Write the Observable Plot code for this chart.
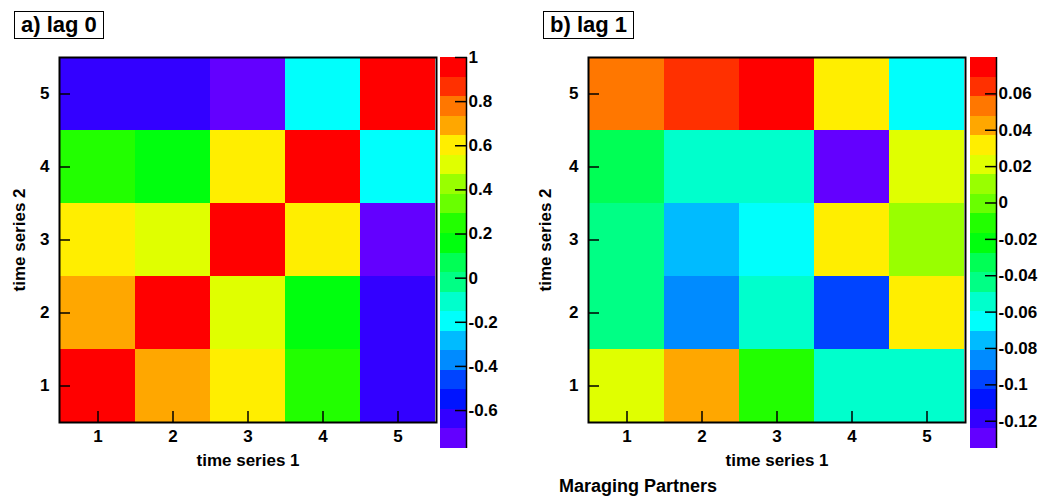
<!DOCTYPE html>
<html>
<head>
<meta charset="utf-8">
<script src="https://cdn.jsdelivr.net/npm/d3@7"></script>
<script src="https://cdn.jsdelivr.net/npm/@observablehq/plot@0.6"></script>
<style>
  html, body { margin: 0; padding: 0; background: #fff; }
  #root { position: relative; width: 1040px; height: 497px; overflow: hidden;
          font-family: "Liberation Sans", Arial, Helvetica, sans-serif; font-weight: bold; color: #000; }
  .abs { position: absolute; }
  .abs svg { overflow: visible; max-width: none !important; }
  .tbox { position: absolute; box-sizing: border-box; height: 28px; border: 1px solid #000;
          font-size: 22px; line-height: 26px; padding: 0 6px; white-space: nowrap; background: #fff; }
  .caption { position: absolute; font-size: 18px; white-space: nowrap; }
</style>
</head>
<body>
<div id="root">
  <div class="abs" id="heat0" style="left:0px;top:0px"></div>
  <div class="abs" id="bar0" style="left:440px;top:0px"></div>
  <div class="abs" id="heat1" style="left:520px;top:0px"></div>
  <div class="abs" id="bar1" style="left:970px;top:0px"></div>
  <div class="tbox" style="left:14px;top:11px">a) lag 0</div>
  <div class="tbox" style="left:543px;top:11px">b) lag 1</div>
  <div class="caption" style="left:559px;top:476px">Maraging Partners</div>
</div>
<script>
// ---- data ----
const xCats = [1, 2, 3, 4, 5];          // time series 1
const yCats = [1, 2, 3, 4, 5];          // time series 2
// rows: time series 2 = 1..5 ; columns: time series 1 = 1..5
const lag0 = [
  [ 1.00,  0.69,  0.60,  0.25, -0.64],
  [ 0.69,  1.00,  0.51,  0.16, -0.62],
  [ 0.60,  0.51,  1.00,  0.59, -0.772],
  [ 0.25,  0.16,  0.59,  1.00, -0.20],
  [-0.64, -0.62, -0.772, -0.20, 1.00]
];
const lag1 = [
  [ 0.020,  0.042, -0.012, -0.056, -0.058],
  [-0.045, -0.087, -0.054, -0.098,  0.030],
  [-0.044, -0.076, -0.066,  0.032,  0.010],
  [-0.033, -0.055, -0.057, -0.135,  0.021],
  [ 0.053,  0.064,  0.080,  0.031, -0.065]
];
const palette = ["#6300ff","#3300ff","#0014ff","#0044ff","#008bff","#00bbff","#00fffc","#00ffcc","#00ff85","#00ff55",
                 "#00ff0e","#22ff00","#69ff00","#99ff00","#e0ff00","#ffee00","#ffa700","#ff7700","#ff3000","#ff0000"];
const lag0Ticks = [-0.6, -0.4, -0.2, 0, 0.2, 0.4, 0.6, 0.8, 1];
const lag1Ticks = [-0.12, -0.1, -0.08, -0.06, -0.04, -0.02, 0, 0.02, 0.04, 0.06];
const nLevels = 20;
const xTitle = "time series 1";
const yTitle = "time series 2";

const FONT = '"Liberation Sans", Arial, Helvetica, sans-serif';

function cells(matrix) {
  return yCats.flatMap((y, i) => xCats.map((x, j) => ({x, y, v: matrix[i][j]})));
}
function colorSpec(vals) {
  const lo = d3.min(vals), hi = d3.max(vals);
  return {lo, hi, scale: {type: "threshold",
    domain: d3.range(1, nLevels).map(i => lo + i * (hi - lo) / nLevels), range: palette}};
}
function heatmap(matrix, o) {
  const data = cells(matrix);
  const {scale} = colorSpec(data.map(d => d.v));
  return Plot.plot({
    width: o.width, height: 497,
    marginLeft: o.ml, marginRight: o.mr, marginTop: 57, marginBottom: 75,
    style: {fontFamily: FONT, fontSize: "17px", fontWeight: "bold", background: "transparent", color: "#000", overflow: "visible"},
    x: {type: "band", domain: xCats, padding: 0},
    y: {type: "band", domain: yCats, padding: 0, reverse: true},
    color: scale,
    marks: [
      Plot.cell(data, {x: "x", y: "y", fill: "v", shapeRendering: "crispEdges"}),
      Plot.frame({stroke: "#000", strokeWidth: 2}),
      Plot.axisX({tickSize: -11, tickPadding: 18, strokeWidth: 1.5, label: xTitle,
                  labelAnchor: "center", labelOffset: 43, labelArrow: "none"}),
      Plot.axisY({tickSize: -11, tickPadding: 21, strokeWidth: 1.5, label: yTitle,
                  labelAnchor: "center", labelOffset: o.lo, labelArrow: "none"})
    ]
  });
}
function colorbar(matrix, ticks) {
  const {lo, hi, scale} = colorSpec(matrix.flat());
  const step = (hi - lo) / nLevels;
  const bands = d3.range(nLevels).map(i => ({y1: lo + i * step, y2: lo + (i + 1) * step, mid: lo + (i + 0.5) * step}));
  return Plot.plot({
    width: 60, height: 497, marginLeft: 0, marginRight: 34, marginTop: 57, marginBottom: 49,
    style: {fontFamily: FONT, fontSize: "17px", fontWeight: "bold", background: "transparent", color: "#000", overflow: "visible"},
    x: {domain: [0, 1], axis: null},
    y: {domain: [lo, hi]},
    color: scale,
    marks: [
      Plot.rect(bands, {x1: 0, x2: 1, y1: "y1", y2: "y2", fill: "mid", shapeRendering: "crispEdges"}),
      Plot.ruleX([1], {stroke: "#000", strokeWidth: 1.5}),
      Plot.axisY({anchor: "right", ticks, tickSize: -12, tickPadding: 14, strokeWidth: 1.5,
                  tickFormat: d => String(Math.round(d * 100) / 100), label: null})
    ]
  });
}

document.getElementById("heat0").append(heatmap(lag0, {width: 440, ml: 59, mr: 4, lo: 47}));
document.getElementById("bar0").append(colorbar(lag0, lag0Ticks));
document.getElementById("heat1").append(heatmap(lag1, {width: 450, ml: 68, mr: 5, lo: 50}));
document.getElementById("bar1").append(colorbar(lag1, lag1Ticks));
</script>
</body>
</html>
